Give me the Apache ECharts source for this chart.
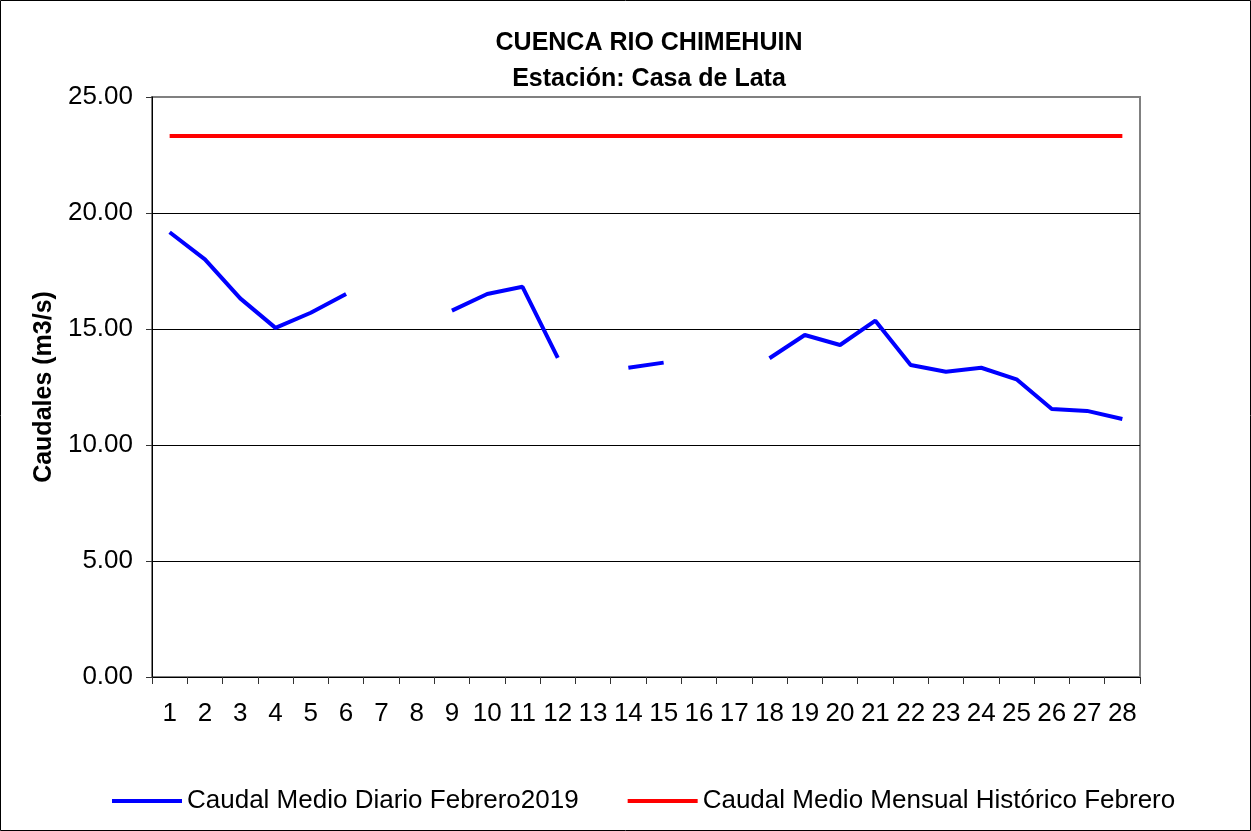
<!DOCTYPE html>
<html>
<head>
<meta charset="utf-8">
<script src="https://cdn.jsdelivr.net/npm/echarts@6/dist/echarts.min.js"></script>
<style>
  html, body { margin: 0; padding: 0; background: #fff; }
  #chart { width: 1251px; height: 831px; }
</style>
</head>
<body>
<div id="chart"></div>
<script>
// days of February 2019
const days = ["1","2","3","4","5","6","7","8","9","10","11","12","13","14",
  "15","16","17","18","19","20","21","22","23","24","25","26","27","28"];

// daily mean flow (m3/s), null = no data
const dailyFlow = [19.17, 18.00, 16.32, 15.05, 15.70, 16.51, null, null, 15.79, 16.51,
  16.82, 13.76, null, 13.33, 13.55, null, null, 13.74, 14.74, 14.31,
  15.36, 13.45, 13.16, 13.33, 12.83, 11.55, 11.47, 11.12];

// historical monthly mean for February
const historicMean = [23.32, 23.32, 23.32, 23.32, 23.32, 23.32, 23.32, 23.32, 23.32, 23.32,
  23.32, 23.32, 23.32, 23.32, 23.32, 23.32, 23.32, 23.32, 23.32, 23.32,
  23.32, 23.32, 23.32, 23.32, 23.32, 23.32, 23.32, 23.32];

const FONT = "Liberation Sans, Arial, sans-serif";

const chart = echarts.init(document.getElementById("chart"));

const option = {
  backgroundColor: "#fff",
  animation: false,
  title: {
    text: "CUENCA RIO CHIMEHUIN\nEstación: Casa de Lata",
    left: 644,
    textAlign: "center",
    top: 20,
    textStyle: {
      fontFamily: FONT,
      fontSize: 25,
      fontWeight: "bold",
      color: "#000",
      lineHeight: 36
    }
  },
  graphic: [
    {
      type: "rect",
      shape: { x: 0.5, y: 0.5, width: 1250, height: 830 },
      style: { fill: "none", stroke: "#000", lineWidth: 1 },
      silent: true
    }
  ],
  legend: {
    left: 107,
    top: 783,
    itemWidth: 70,
    itemHeight: 4,
    itemGap: 49,
    icon: "rect",
    textStyle: { fontFamily: FONT, fontSize: 26, color: "#000" },
    data: ["Caudal Medio Diario Febrero2019", "Caudal Medio Mensual Histórico Febrero"]
  },
  grid: {
    left: 152,
    right: 111,
    top: 97,
    bottom: 154,
    show: true,
    borderColor: "#808080",
    borderWidth: 2,
    backgroundColor: "#fff"
  },
  xAxis: {
    type: "category",
    data: days,
    boundaryGap: true,
    axisLine: { lineStyle: { color: "#000", width: 1 } },
    axisTick: { show: true, alignWithLabel: false, length: 7, lineStyle: { color: "#333" } },
    axisLabel: { fontFamily: FONT, fontSize: 26, color: "#000", margin: 24, interval: 0 },
    splitLine: { show: false }
  },
  yAxis: {
    type: "value",
    min: 0,
    max: 25,
    interval: 5,
    name: "Caudales (m3/s)",
    nameLocation: "middle",
    nameGap: 95,
    nameTextStyle: { fontFamily: FONT, fontSize: 25, fontWeight: "bold", color: "#000" },
    axisLine: { show: true, lineStyle: { color: "#000", width: 1 } },
    axisTick: { show: true, length: 6, lineStyle: { color: "#333" } },
    axisLabel: {
      fontFamily: FONT, fontSize: 26, color: "#000", margin: 19,
      formatter: (v) => v.toFixed(2)
    },
    splitLine: { show: true, showMaxLine: false, lineStyle: { color: "#000", width: 1 } }
  },
  series: [
    {
      name: "Caudal Medio Diario Febrero2019",
      type: "line",
      data: dailyFlow,
      connectNulls: false,
      showSymbol: false,
      symbol: "none",
      color: "#0000ff",
      lineStyle: { color: "#0000ff", width: 4 }
    },
    {
      name: "Caudal Medio Mensual Histórico Febrero",
      type: "line",
      data: historicMean,
      showSymbol: false,
      symbol: "none",
      color: "#ff0000",
      lineStyle: { color: "#ff0000", width: 4 }
    }
  ]
};

chart.setOption(option);
</script>
</body>
</html>
